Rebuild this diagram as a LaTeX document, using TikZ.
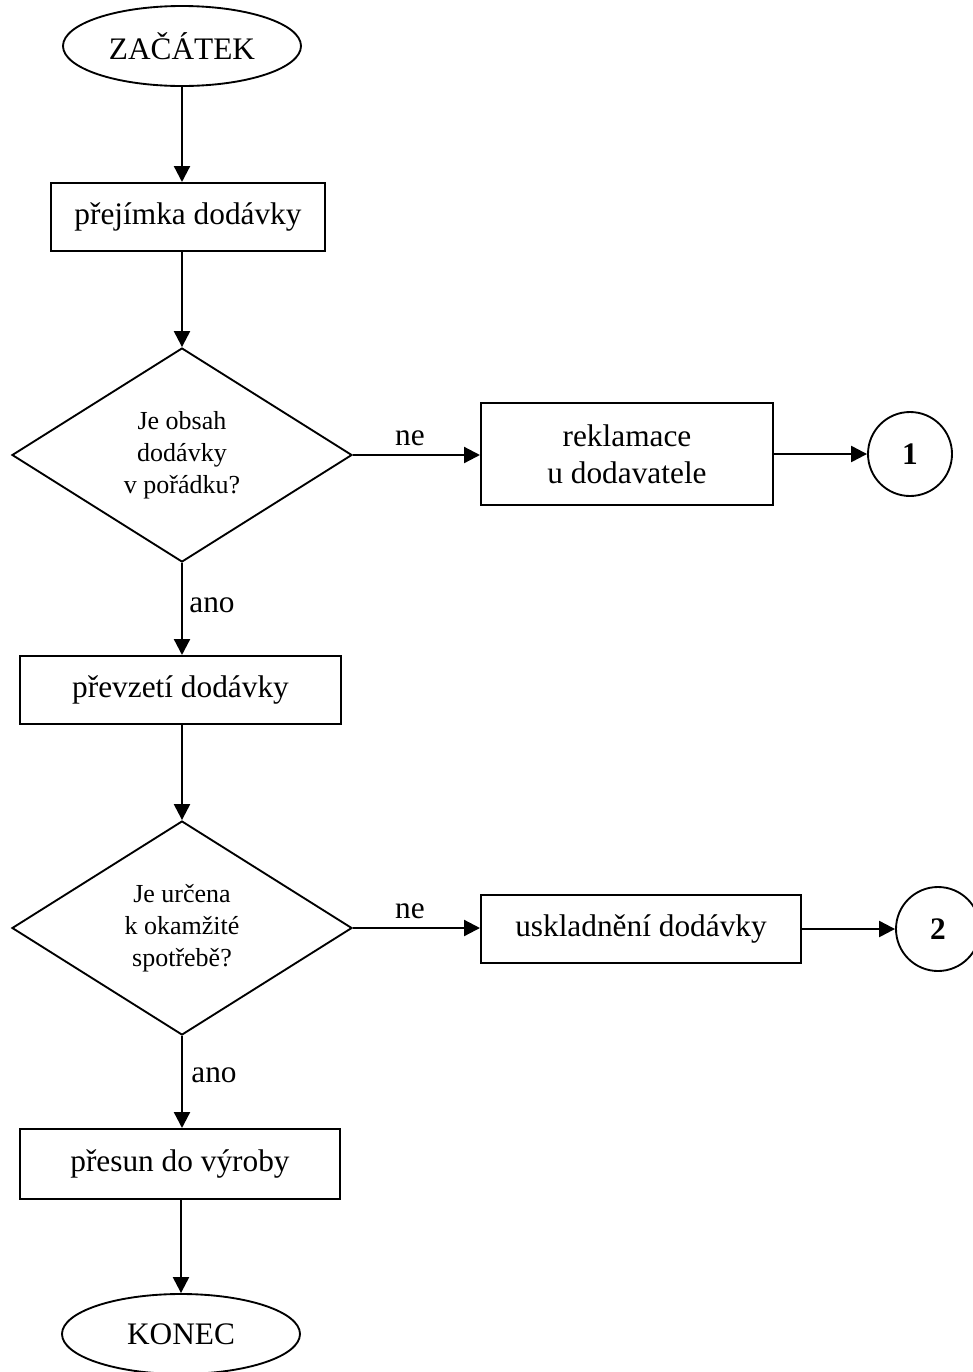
\documentclass[tikz,border=0pt]{standalone}
\usepackage{fontspec}
\setmainfont{Liberation Serif}
\usetikzlibrary{shapes.geometric,arrows.meta}
\begin{document}
\begin{tikzpicture}[x=0.75pt,y=-0.75pt,
  every node/.style={font=\fontsize{23.5}{27}\selectfont},
  arr/.style={line width=1.7pt,-{Triangle[length=12pt,width=12pt]}},
  term/.style={draw,line width=1.4pt,ellipse,minimum width=178.5pt,minimum height=60pt,inner sep=0pt},
  proc/.style={draw,line width=1.5pt,rectangle,inner sep=0pt,align=center,minimum height=51pt},
  dec/.style={draw,line width=1.4pt,diamond,minimum width=255pt,minimum height=160.5pt,inner sep=0pt,align=center,font=\fontsize{19.5}{24}\selectfont},
  conn/.style={draw,line width=1.4pt,circle,minimum size=63pt,inner sep=0pt,font=\bfseries\fontsize{23.5}{27}\selectfont},
  lbl/.style={inner sep=0pt}
]
\useasboundingbox (0,0) rectangle (972,1372);
\node[term] (start) at (182,46) {ZAČÁTEK};
\node[proc,minimum width=205.5pt] (b1) at (188,217) {přejímka dodávky};
\node[dec] (d1) at (182,455) {Je obsah\\dodávky\\v pořádku?};
\node[proc,minimum width=219pt,minimum height=76.5pt,font=\fontsize{23.5}{27.75}\selectfont] (b2) at (627,454) {reklamace\\u dodavatele};
\node[conn] (c1) at (910,454) {1};
\node[proc,minimum width=240.75pt] (b3) at (180.5,690) {převzetí dodávky};
\node[dec] (d2) at (182,928) {Je určena\\k okamžité\\spotřebě?};
\node[proc,minimum width=240pt] (b4) at (641,929) {uskladnění dodávky};
\node[conn] (c2) at (938,929) {2};
\node[proc,minimum width=240pt,minimum height=52.5pt] (b5) at (180,1164) {přesun do výroby};
\node[term] (end) at (181,1334) {KONEC};
\node[lbl] (ne1) at (410,438) {ne};
\node[lbl] (ano1) at (212,605) {ano};
\node[lbl] (ne2) at (410,911) {ne};
\node[lbl] (ano2) at (214,1075) {ano};
\draw[arr] (start.south) -- (start.south |- b1.north);
\draw[arr] (d1.north |- b1.south) -- (d1.north);
\draw[arr] (d1.east) -- (d1.east -| b2.west);
\draw[arr] (b2.east) -- (c1.west);
\draw[arr] (d1.south) -- (d1.south |- b3.north);
\draw[arr] (d2.north |- b3.south) -- (d2.north);
\draw[arr] (d2.east) -- (d2.east -| b4.west);
\draw[arr] (b4.east) -- (c2.west);
\draw[arr] (d2.south) -- (d2.south |- b5.north);
\draw[arr] (end.north |- b5.south) -- (end.north);
\end{tikzpicture}
\end{document}
